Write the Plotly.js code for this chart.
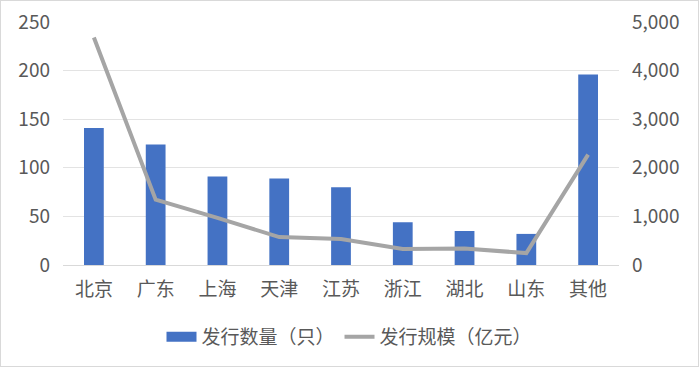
<!DOCTYPE html>
<html><head><meta charset="utf-8">
<script src="https://cdn.plot.ly/plotly-3.0.1.min.js"></script>
<style>html,body{margin:0;padding:0;background:#fff}#wrap{width:699px;height:367px;box-sizing:border-box;border:1px solid #d9d9d9;overflow:hidden}#chart{width:697px;height:365px}</style>
</head><body><div id="wrap"><div id="chart"></div></div>
<script>
const categories = ["北京","广东","上海","天津","江苏","浙江","湖北","山东","其他"];
const issueCount = [141, 124, 91, 89, 80, 44, 35, 32, 196];
const issueScale = [4680, 1345, 970, 575, 535, 330, 340, 245, 2270];
const leftTicks = [0, 50, 100, 150, 200, 250];
const rightTicks = [0, 1000, 2000, 3000, 4000, 5000];
const seriesNames = ['发行数量（只）', '发行规模（亿元）'];

const font = {family: '"Noto Sans CJK SC", "Microsoft YaHei", sans-serif', size: 19, color: '#595959'};
const data = [
  {type: 'bar', name: seriesNames[0], x: categories, y: issueCount, marker: {color: '#4472c4'}, yaxis: 'y', showlegend: false},
  {type: 'scatter', mode: 'lines', name: seriesNames[0], x: [null], y: [null], line: {color: '#4472c4', width: 10}, yaxis: 'y', hoverinfo: 'skip'},
  {type: 'scatter', mode: 'lines', name: seriesNames[1], x: categories, y: issueScale, line: {color: '#a5a5a5', width: 4}, yaxis: 'y2'}
];
const layout = {
  width: 697, height: 365,
  margin: {l: 62, r: 79, t: 21, b: 101},
  paper_bgcolor: '#fff', plot_bgcolor: '#fff',
  font: font,
  bargap: 0.68,
  showlegend: true,
  legend: {orientation: 'h', x: 0.5, xanchor: 'center', xref: 'container', y: 0.08, yref: 'container', yanchor: 'middle', font: {size: 19, color: '#595959'}, traceorder: 'normal', itemwidth: 30},
  xaxis: {type: 'category', showgrid: false, showline: false, ticks: '', tickfont: {size: 19}, ticklabelstandoff: 11},
  yaxis: {range: [0, 250], tickvals: leftTicks, gridcolor: '#e3e3e3', gridwidth: 1, zeroline: true, zerolinecolor: '#d9d9d9', zerolinewidth: 1, showline: false, ticks: '', tickfont: {size: 19}, ticklabelstandoff: 12},
  yaxis2: {overlaying: 'y', side: 'right', range: [0, 5000], tickvals: rightTicks, tickformat: ',d', showgrid: false, zeroline: false, showline: false, ticks: '', tickfont: {size: 19}, ticklabelstandoff: 12}
};
Plotly.newPlot('chart', data, layout, {displayModeBar: false, staticPlot: true});
</script></body></html>
